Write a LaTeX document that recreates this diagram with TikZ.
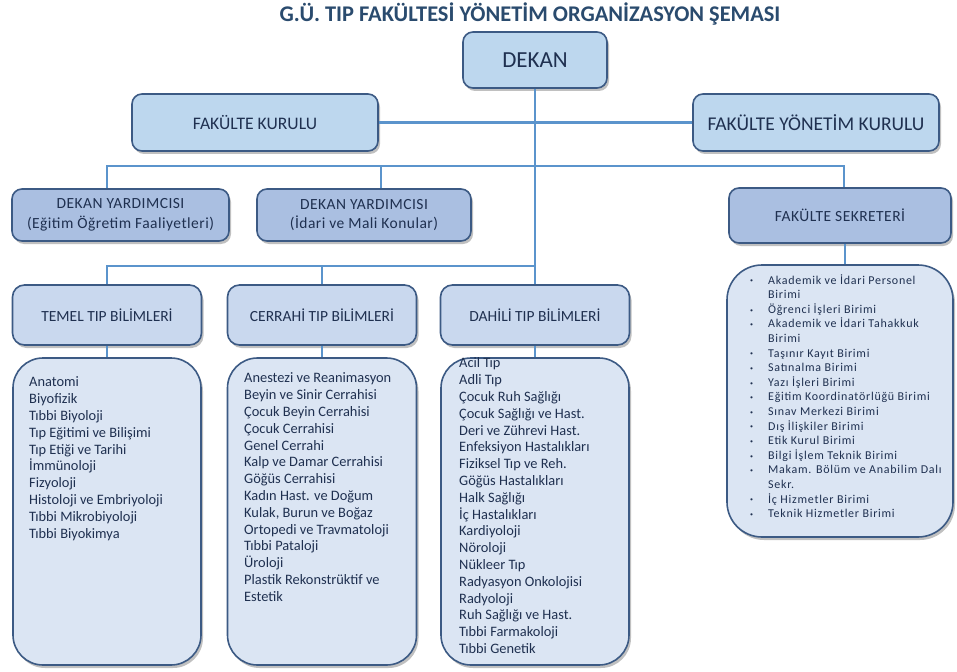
\documentclass[tikz,border=0pt]{standalone}
\usepackage{fontspec}
\setmainfont{Carlito}
\usetikzlibrary{shadows}
\definecolor{fillA}{HTML}{BDD7EE}
\definecolor{fillB}{HTML}{AABFE1}
\definecolor{fillC}{HTML}{C9D8EE}
\definecolor{fillL}{HTML}{DBE5F3}
\definecolor{bordc}{HTML}{3C5A84}
\definecolor{connc}{HTML}{5B94CC}
\definecolor{txtc}{HTML}{1F3050}
\definecolor{titlec}{HTML}{2A4B6E}
\newcommand\sbul{\makebox[18pt][l]{\raisebox{1.3pt}{\fontsize{6}{6}\selectfont\textbullet}}}
\newcommand\sind{\hspace*{18pt}}
\tikzset{
  basebox/.style={draw=bordc, line width=1.6pt, text=txtc, inner sep=0pt, align=center,
    drop shadow={shadow xshift=2pt, shadow yshift=-3pt, opacity=0.35, fill=black!70}},
  boxA/.style={basebox, fill=fillA, rounded corners=10pt},
  boxB/.style={basebox, fill=fillB, rounded corners=10pt, font=\addfontfeature{LetterSpace=3}\fontsize{15.5}{19.7}\selectfont},
  boxC/.style={basebox, fill=fillC, rounded corners=12pt, minimum width=189pt, minimum height=60pt, font=\fontsize{15.5}{18}\selectfont},
  boxL/.style={basebox, fill=fillL, rounded corners=30pt},
  listtext/.style={anchor=north west, align=left, inner sep=0pt, text=txtc, font=\fontsize{14.4}{16.8}\selectfont},
  sektext/.style={anchor=north west, align=left, inner sep=0pt, text=txtc, font=\addfontfeature{LetterSpace=6}\fontsize{12}{14.6}\selectfont},
  conn/.style={draw=connc, line width=2.2pt},
}
\begin{document}
\begin{tikzpicture}[x=1pt,y=-1pt]
\useasboundingbox (0,0) rectangle (957,671);
\fill[white] (0,0) rectangle (957,671);

\node[text=titlec, font=\bfseries\fontsize{22.4}{26}\selectfont] (title) at (530,14) {G.Ü. TIP FAKÜLTESİ YÖNETİM ORGANİZASYON ŞEMASI};

\node[boxA, minimum width=144pt, minimum height=56pt, font=\fontsize{23}{27}\selectfont] (dekan) at (535,60) {DEKAN};
\node[boxA, minimum width=246pt, minimum height=57pt, font=\fontsize{17.6}{20}\selectfont] (fk) at (255,122.5) {FAKÜLTE KURULU};
\node[boxA, minimum width=246pt, minimum height=57pt, font=\fontsize{19.5}{23}\selectfont] (fyk) at (816,122.5) {FAKÜLTE YÖNETİM KURULU};

\node[boxB, minimum width=217pt, minimum height=52pt] (dy1) at (120.5,215) {DEKAN YARDIMCISI\\(Eğitim Öğretim Faaliyetleri)};
\node[boxB, minimum width=214pt, minimum height=52pt] (dy2) at (364,215) {DEKAN YARDIMCISI\\(İdari ve Mali Konular)};
\node[boxB, minimum width=222pt, minimum height=55pt] (fs) at (840,215.5) {FAKÜLTE SEKRETERİ};

\node[boxC] (temel) at (107,315) {TEMEL TIP BİLİMLERİ};
\node[boxC] (cerrahi) at (322,315) {CERRAHİ TIP BİLİMLERİ};
\node[boxC] (dahili) at (535,315) {DAHİLİ TIP BİLİMLERİ};

\node[boxL, minimum width=188pt, minimum height=307pt] (temelL) at (107,511.5) {};
\node[boxL, minimum width=189pt, minimum height=307pt] (cerrahiL) at (322,511.5) {};
\node[boxL, minimum width=188pt, minimum height=307pt] (dahiliL) at (535,511.5) {};
\node[boxL, minimum width=226pt, minimum height=272pt, rounded corners=35pt] (sekL) at (840,401) {};

\node[listtext] (temelT) at (29,374.6) {\rule{0pt}{12pt}Anatomi\\Biyofizik\\Tıbbi Biyoloji\\Tıp Eğitimi ve Bilişimi\\Tıp Etiği ve Tarihi\\İmmünoloji\\Fizyoloji\\Histoloji ve Embriyoloji\\Tıbbi Mikrobiyoloji\\Tıbbi Biyokimya};
\node[listtext] (cerrahiT) at (244,370.6) {\rule{0pt}{12pt}Anestezi ve Reanimasyon\\Beyin ve Sinir Cerrahisi\\Çocuk Beyin Cerrahisi\\Çocuk Cerrahisi\\Genel Cerrahi\\Kalp ve Damar Cerrahisi\\Göğüs Cerrahisi\\Kadın Hast. ve Doğum\\Kulak, Burun ve Boğaz\\Ortopedi ve Travmatoloji\\Tıbbi Pataloji\\Üroloji\\Plastik Rekonstrüktif ve\\Estetik};
\node[listtext] (dahiliT) at (459,355.6) {\rule{0pt}{12pt}Acil Tıp\\Adli Tıp\\Çocuk Ruh Sağlığı\\Çocuk Sağlığı ve Hast.\\Deri ve Zührevi Hast.\\Enfeksiyon Hastalıkları\\Fiziksel Tıp ve Reh.\\Göğüs Hastalıkları\\Halk Sağlığı\\İç Hastalıkları\\Kardiyoloji\\Nöroloji\\Nükleer Tıp\\Radyasyon Onkolojisi\\Radyoloji\\Ruh Sağlığı ve Hast.\\Tıbbi Farmakoloji\\Tıbbi Genetik};
\node[sektext] (sekT) at (750,273.4) {\rule{0pt}{10.5pt}\sbul Akademik ve İdari Personel\\\sind Birimi\\\sbul Öğrenci İşleri Birimi\\\sbul Akademik ve İdari Tahakkuk\\\sind Birimi\\\sbul Taşınır Kayıt Birimi\\\sbul Satınalma Birimi\\\sbul Yazı İşleri Birimi\\\sbul Eğitim Koordinatörlüğü Birimi\\\sbul Sınav Merkezi Birimi\\\sbul Dış İlişkiler Birimi\\\sbul Etik Kurul Birimi\\\sbul Bilgi İşlem Teknik Birimi\\\sbul Makam. Bölüm ve Anabilim Dalı\\\sind Sekr.\\\sbul İç Hizmetler Birimi\\\sbul Teknik Hizmetler Birimi};

\coordinate (v1) at (107,166);
\coordinate (v2) at (381,166);
\coordinate (v3) at (844,166);
\coordinate (v4) at (845,254);
\coordinate (h3) at (535,266);

\draw[conn] (fk.east) -- (fyk.west);
\draw[conn] (dekan.south) -- (dahili.north);
\draw[conn] (v1 |- dy1.north) -- (v1) -- (v3) -- (v3 |- fs.north);
\draw[conn] (v2) -- (v2 |- dy2.north);
\draw[conn] (h3) -| (temel.north);
\draw[conn] (cerrahi.north |- h3) -- (cerrahi.north);
\draw[conn] (temel.south) -- (temelL.north);
\draw[conn] (cerrahi.south) -- (cerrahiL.north);
\draw[conn] (dahili.south) -- (dahiliL.north);
\draw[conn] (v4 |- fs.south) -- (v4 |- sekL.north);
\end{tikzpicture}
\end{document}
